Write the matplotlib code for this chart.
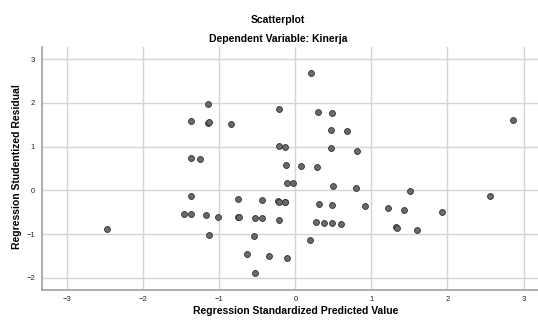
import numpy as np
import matplotlib.pyplot as plt

# Standardized predicted values (x) and studentized residuals (y)
pred = [-2.48, -1.46, -1.37, -1.37, -1.37, -1.25, -1.37, -1.15, -1.15, -1.14,
        -1.17, -1.13, -1.02, -0.84, -0.75, -0.75, -0.74, -0.64, -0.54, -0.53,
        -0.53, -0.44, -0.44, -0.34, -0.22, -0.22, -0.23, -0.22, -0.22, -0.13,
        -0.14, -0.13, -0.12, -0.11, -0.11, -0.03, 0.08, 0.19, 0.20, 0.28,
        0.30, 0.31, 0.27, 0.38, 0.47, 0.47, 0.48, 0.49, 0.48, 0.48,
        0.60, 0.68, 0.80, 0.81, 0.91, 1.22, 1.32, 1.33, 1.43, 1.51,
        1.60, 1.93, 2.56, 2.86]
resid = [-0.88, -0.54, -0.55, -0.12, 0.73, 0.71, 1.58, 1.97, 1.55, 1.56,
         -0.57, -1.03, -0.61, 1.51, -0.19, -0.61, -0.60, -1.46, -1.05, -0.63,
         -1.89, -0.23, -0.64, -1.50, 1.85, 1.01, -0.25, -0.26, -0.67, 1.00,
         -0.26, -0.27, 0.58, 0.16, -1.55, 0.16, 0.56, -1.13, 2.69, 0.53,
         1.80, -0.31, -0.73, -0.74, 1.39, 0.96, 1.78, 0.09, -0.33, -0.74,
         -0.77, 1.35, 0.06, 0.91, -0.37, -0.41, -0.85, -0.86, -0.44, -0.02,
         -0.90, -0.50, -0.14, 1.62]

x_ticks = [-3, -2, -1, 0, 1, 2, 3]
y_ticks = [-2, -1, 0, 1, 2, 3]

plt.rcParams['font.family'] = ['Liberation Sans', 'DejaVu Sans']

fig = plt.figure(figsize=(5.38, 3.2), dpi=100)
ax = fig.add_axes([42 / 538, 1 - 289.5 / 320, 496 / 538, 242.5 / 320])

ax.scatter(pred, resid, s=18, facecolor='#6a6a6a', edgecolor='#303030',
           linewidth=0.6, zorder=3)

ax.set_xlim(-3.33, 3.19)
ax.set_ylim(-2.27, 3.28)
ax.set_xticks(x_ticks)
ax.set_yticks(y_ticks)
ax.grid(True, color='#d4d4d4', linewidth=1.0)
ax.set_axisbelow(True)
ax.tick_params(length=0, labelsize=5.5, colors='#222222', pad=5)

for side in ['top', 'right']:
    ax.spines[side].set_visible(False)
for side in ['left', 'bottom']:
    ax.spines[side].set_color('#a0a0a0')
    ax.spines[side].set_linewidth(1.2)

fig.text(278 / 538, 1 - 20 / 320, 'Scatterplot', ha='center', va='center',
         fontsize=7.5, fontweight='bold')
fig.text(278 / 538, 1 - 39 / 320, 'Dependent Variable: Kinerja', ha='center',
         va='center', fontsize=7.5, fontweight='bold')
fig.text(296 / 538, 1 - 311 / 320, 'Regression Standardized Predicted Value',
         ha='center', va='center', fontsize=7.5, fontweight='bold')
fig.text(17 / 538, 1 - 167 / 320, 'Regression Studentized Residual',
         ha='center', va='center', rotation=90, fontsize=7.5, fontweight='bold')

fig.savefig('out.png', dpi=100)
